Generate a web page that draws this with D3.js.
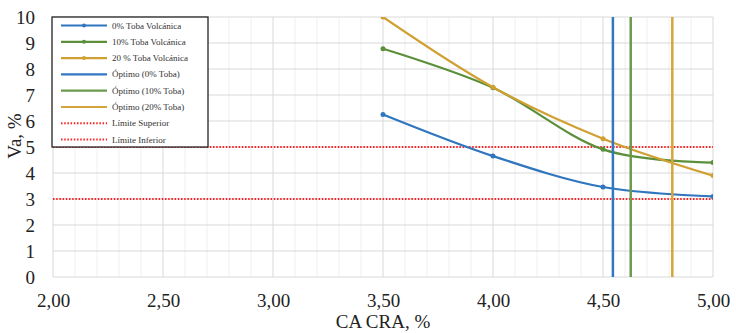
<!DOCTYPE html>
<html>
<head>
<meta charset="utf-8">
<script src="https://cdn.jsdelivr.net/npm/d3@7"></script>
<style>
  body { margin: 0; background: #fff; }
  svg text { font-family: 'Liberation Serif', 'Times New Roman', Times, serif !important; }
</style>
</head>
<body>
<div id="chart"></div>
<script>
// data
var xValues = [3.5, 4.0, 4.5, 5.0];
var toba0 = [6.25, 4.65, 3.46, 3.10];
var toba10 = [8.78, 7.28, 4.91, 4.40];
var toba20 = [10.0, 7.30, 5.32, 3.90];
var optimo = [4.545, 4.626, 4.815];
var limites = [5, 3];
var xTicks = [2.0, 2.5, 3.0, 3.5, 4.0, 4.5, 5.0];
var yTicks = [0, 1, 2, 3, 4, 5, 6, 7, 8, 9, 10];
var seriesNames = ["0% Toba Volcánica", "10% Toba Volcánica", "20 % Toba Volcánica"];
var optimoNames = ["Óptimo (0% Toba)", "Óptimo (10% Toba)", "Óptimo (20% Toba)"];
var limiteNames = ["Límite Superior", "Límite Inferior"];
var colors = ["#2f76bf", "#5b8f3a", "#d1a032"];
var optColors = ["#3178c2", "#6a9a4c", "#d4a53a"];

var width = 736, height = 333;
var margin = {top: 17, right: 23, bottom: 56, left: 53};

var svg = d3.select("#chart").append("svg")
    .attr("width", width)
    .attr("height", height);

var x = d3.scaleLinear().domain([2, 5]).range([margin.left, width - margin.right]);
var y = d3.scaleLinear().domain([0, 10]).range([height - margin.bottom, margin.top]);

// minor vertical gridlines every 0.1
var minor = d3.range(2.1, 5.0, 0.1).filter(function(d) { return Math.abs(d * 2 - Math.round(d * 2)) > 0.01; });
svg.append("g").selectAll("line")
    .data(minor)
    .join("line")
    .attr("x1", function(d) { return x(d); })
    .attr("x2", function(d) { return x(d); })
    .attr("y1", y(0)).attr("y2", y(10))
    .attr("stroke", "#efefef").attr("stroke-width", 1);

// major gridlines
svg.append("g").selectAll("line")
    .data(xTicks)
    .join("line")
    .attr("x1", function(d) { return x(d); })
    .attr("x2", function(d) { return x(d); })
    .attr("y1", y(0)).attr("y2", y(10))
    .attr("stroke", "#d9d9d9").attr("stroke-width", 1);
svg.append("g").selectAll("line")
    .data(yTicks)
    .join("line")
    .attr("x1", x(2)).attr("x2", x(5))
    .attr("y1", function(d) { return y(d); })
    .attr("y2", function(d) { return y(d); })
    .attr("stroke", "#d9d9d9").attr("stroke-width", 1);

// axes (labels only)
var xAxis = svg.append("g")
    .attr("transform", "translate(0," + y(0) + ")")
    .call(d3.axisBottom(x).tickValues(xTicks).tickSize(0).tickPadding(17)
        .tickFormat(function(d) { return d3.format(".2f")(d).replace(".", ","); }));
var yAxis = svg.append("g")
    .attr("transform", "translate(" + (x(2) - 18) + ",0)")
    .call(d3.axisLeft(y).tickValues(yTicks).tickSize(0).tickPadding(0));
[xAxis, yAxis].forEach(function(g) {
    g.select(".domain").remove();
    g.selectAll("text")
        .attr("font-size", "19px")
        .attr("fill", "#222");
});

// limits
svg.append("g").selectAll("line")
    .data(limites)
    .join("line")
    .attr("x1", x(2)).attr("x2", x(5))
    .attr("y1", function(d) { return y(d); })
    .attr("y2", function(d) { return y(d); })
    .attr("stroke", "#ff2020").attr("stroke-width", 2)
    .attr("stroke-dasharray", "1.5,1.7");

// clip for curves
svg.append("clipPath").attr("id", "plotclip")
    .append("rect")
    .attr("x", x(2)).attr("y", y(10))
    .attr("width", x(5) - x(2)).attr("height", y(0) - y(10));

var line = d3.line()
    .x(function(d) { return x(d[0]); })
    .y(function(d) { return y(d[1]); })
    .curve(d3.curveCatmullRom.alpha(0));

var allSeries = [toba0, toba10, toba20];
allSeries.forEach(function(vals, i) {
    var pts = xValues.map(function(xv, j) { return [xv, vals[j]]; });
    var g = svg.append("g").attr("clip-path", "url(#plotclip)");
    g.append("path")
        .datum(pts)
        .attr("fill", "none")
        .attr("stroke", colors[i])
        .attr("stroke-width", 2.2)
        .attr("d", line);
    g.selectAll("circle")
        .data(pts)
        .join("circle")
        .attr("cx", function(d) { return x(d[0]); })
        .attr("cy", function(d) { return y(d[1]); })
        .attr("r", 2.5)
        .attr("fill", colors[i]);
});

// optimum vertical lines
svg.append("g").selectAll("line")
    .data(optimo)
    .join("line")
    .attr("x1", function(d) { return x(d); })
    .attr("x2", function(d) { return x(d); })
    .attr("y1", y(0)).attr("y2", y(10))
    .attr("stroke", function(d, i) { return optColors[i]; })
    .attr("stroke-width", 2.5);

// axis titles
svg.append("text")
    .attr("x", (x(2) + x(5)) / 2)
    .attr("y", 328)
    .attr("text-anchor", "middle")
    .attr("font-size", "19px")
    .attr("fill", "#222")
    .text("CA CRA, %");
svg.append("text")
    .attr("transform", "translate(21,136) rotate(-90)")
    .attr("text-anchor", "middle")
    .attr("font-size", "19px")
    .attr("fill", "#222")
    .text("Va, %");

// legend
var legend = svg.append("g").attr("transform", "translate(52,17)");
legend.append("rect")
    .attr("width", 156).attr("height", 130)
    .attr("fill", "#fff").attr("stroke", "#222").attr("stroke-width", 1.3);
var legendItems = seriesNames.map(function(n, i) { return {name: n, color: colors[i], type: "marker"}; })
    .concat(optimoNames.map(function(n, i) { return {name: n, color: optColors[i], type: "line"}; }))
    .concat(limiteNames.map(function(n) { return {name: n, color: "#ff2020", type: "dot"}; }));
var item = legend.selectAll(".item")
    .data(legendItems)
    .join("g")
    .attr("class", "item")
    .attr("transform", function(d, i) { return "translate(0," + (8.5 + i * 16.3) + ")"; });
item.append("line")
    .attr("x1", 9).attr("x2", 55)
    .attr("stroke", function(d) { return d.color; })
    .attr("stroke-width", function(d) { return d.type == "dot" ? 2 : 2.2; })
    .attr("stroke-dasharray", function(d) { return d.type == "dot" ? "1.5,1.7" : null; });
item.filter(function(d) { return d.type == "marker"; })
    .append("circle")
    .attr("cx", 32).attr("r", 2)
    .attr("fill", function(d) { return d.color; });
item.append("text")
    .attr("x", 60).attr("y", 3)
    .attr("font-size", "9px")
    .attr("fill", "#333")
    .text(function(d) { return d.name; });
</script>
</body>
</html>
